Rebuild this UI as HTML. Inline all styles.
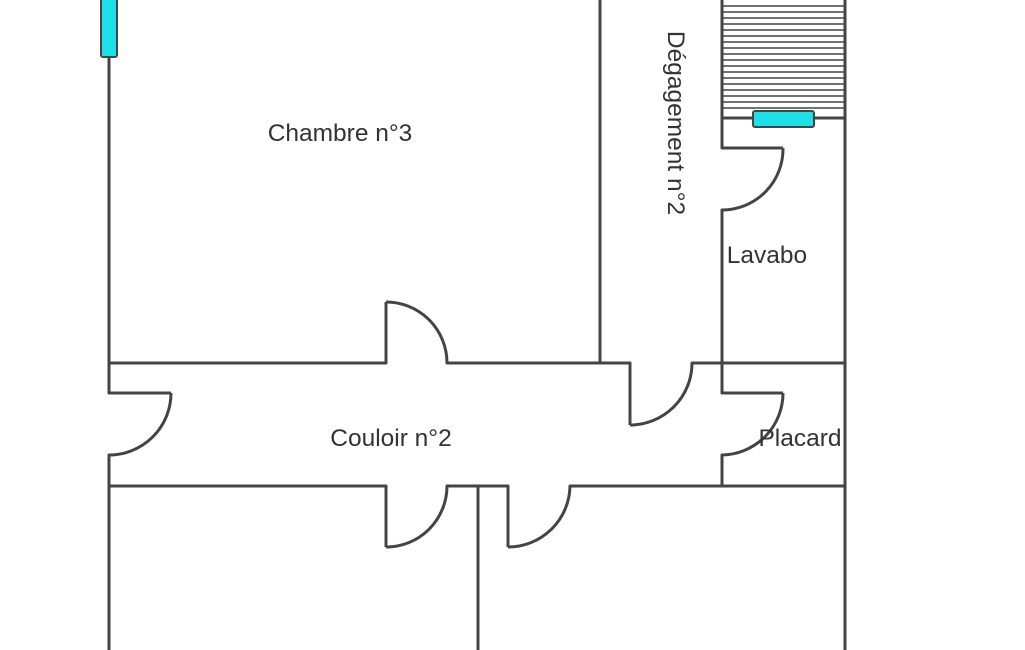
<!DOCTYPE html>
<html><head><meta charset="utf-8"><style>
html,body{margin:0;padding:0;background:#fff;}
svg{display:block;}
text{font-family:"Liberation Sans",sans-serif;fill:#333;font-size:24.5px;}
</style></head><body>
<svg width="1025" height="650" viewBox="0 0 1025 650" xmlns="http://www.w3.org/2000/svg">
<g stroke="#444" stroke-width="3" fill="none" stroke-linejoin="round">
<g stroke-width="1.5">
<line x1="722" y1="6" x2="845" y2="6"/><line x1="722" y1="12" x2="845" y2="12"/><line x1="722" y1="18" x2="845" y2="18"/><line x1="722" y1="24" x2="845" y2="24"/><line x1="722" y1="30" x2="845" y2="30"/><line x1="722" y1="36" x2="845" y2="36"/><line x1="722" y1="42" x2="845" y2="42"/><line x1="722" y1="48" x2="845" y2="48"/><line x1="722" y1="54" x2="845" y2="54"/><line x1="722" y1="60" x2="845" y2="60"/><line x1="722" y1="66" x2="845" y2="66"/><line x1="722" y1="72" x2="845" y2="72"/><line x1="722" y1="78" x2="845" y2="78"/><line x1="722" y1="84" x2="845" y2="84"/><line x1="722" y1="90" x2="845" y2="90"/><line x1="722" y1="96" x2="845" y2="96"/><line x1="722" y1="102" x2="845" y2="102"/><line x1="722" y1="108" x2="845" y2="108"/>
</g>
<line x1="722" y1="118" x2="845" y2="118"/>
<polyline points="109,58 109,393 171,393"/>
<path d="M171,393 A62,62 0 0 1 109,455 L109,650"/>
<polyline points="109,363 386,363 386,302"/>
<path d="M386,302 A61,61 0 0 1 447,363 L630,363 L630,425"/>
<path d="M630,425 A62,62 0 0 0 692,363 L845,363"/>
<line x1="600" y1="0" x2="600" y2="363"/>
<polyline points="722,0 722,148 783,148"/>
<path d="M783,148 A61,61 0 0 1 722,210 L722,393 L783,393"/>
<path d="M783,393 A62,62 0 0 1 722,455 L722,486"/>
<line x1="845" y1="0" x2="845" y2="650"/>
<polyline points="109,486 386,486 386,547"/>
<path d="M386,547 A61,61 0 0 0 447,486 L508,486 L508,547"/>
<path d="M508,547 A62,62 0 0 0 570,486 L845,486"/>
<line x1="478" y1="486" x2="478" y2="650"/>
</g>
<rect x="101" y="-4" width="16" height="61" rx="2" fill="#1ee0e8" stroke="#444" stroke-width="2"/>
<rect x="753" y="111" width="61" height="16" rx="2" fill="#1ee0e8" stroke="#444" stroke-width="2"/>
<text x="340" y="141" text-anchor="middle">Chambre n°3</text>
<text x="391" y="446" text-anchor="middle">Couloir n°2</text>
<text x="767" y="263" text-anchor="middle">Lavabo</text>
<text x="800" y="446" text-anchor="middle">Placard</text>
<text x="0" y="0" text-anchor="middle" transform="translate(668,123) rotate(90)">Dégagement n°2</text>
</svg>
</body></html>
